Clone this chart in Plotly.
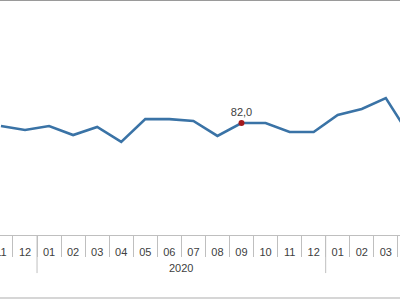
import plotly.graph_objects as go

years = ["2019"] * 4 + ["2020"] * 12 + ["2021"] * 8
months = ["09", "10", "11", "12",
          "01", "02", "03", "04", "05", "06", "07", "08", "09", "10", "11", "12",
          "01", "02", "03", "04", "05", "06", "07", "08"]
values = [None, None, 81.0, 79.7,
          81.0, 78.0, 80.7, 75.7, 83.3, 83.3, 82.7, 77.7, 82.0, 82.0, 79.0, 79.0,
          84.7, 86.7, 90.3, 77.7, None, None, None, None]
highlight_index = 12  # 2020-09

line_color = "#3a73a6"
text_color = "#404040"
grid_color = "#bfbfbf"
font_family = "Arial, Liberation Sans, sans-serif"

idx = list(range(len(months)))

fig = go.Figure()
fig.add_trace(go.Scatter(
    x=idx, y=values, mode="lines",
    line=dict(color=line_color, width=2.6), connectgaps=False,
    hoverinfo="skip", showlegend=False,
))
hv = values[highlight_index]
fig.add_trace(go.Scatter(
    x=[idx[highlight_index]], y=[hv],
    mode="markers+text",
    marker=dict(color="#a3191c", size=6),
    text=[f"{hv:.1f}".replace(".", ",")],
    textposition="top center",
    textfont=dict(family=font_family, size=11, color=text_color),
    showlegend=False, cliponaxis=False,
))

# year groups: centres and boundaries derived from the lists
groups = []
for i, y in enumerate(years):
    if not groups or groups[-1][0] != y:
        groups.append([y, i, i])
    else:
        groups[-1][2] = i

annotations = []
shapes = []
for g, (yr, a, b) in enumerate(groups):
    annotations.append(dict(
        x=(a + b) / 2, y=-0.14, xref="x", yref="paper", text=yr, showarrow=False,
        yanchor="middle", font=dict(family=font_family, size=11, color=text_color)))
    if g > 0:
        shapes.append(dict(type="line", xref="x", yref="paper", x0=a - 0.5, x1=a - 0.5,
                           y0=0, y1=-0.162, line=dict(color=grid_color, width=1)))

shapes += [
    dict(type="line", xref="paper", yref="paper", x0=0, x1=1, y0=1, y1=1,
         line=dict(color="#9a9a9a", width=2)),
    dict(type="line", xref="paper", yref="paper", x0=0, x1=1, y0=-0.268, y1=-0.268,
         line=dict(color="#c8c8c8", width=1.5)),
]

fig.update_layout(
    width=400, height=300,
    margin=dict(l=0, r=0, t=0, b=65, autoexpand=False),
    paper_bgcolor="white", plot_bgcolor="white",
    font=dict(family=font_family, size=11, color=text_color),
    xaxis=dict(
        range=[1.96, 18.59],
        automargin=False,
        tickmode="array", tickvals=idx, ticktext=months,
        ticklabeloverflow="allow",
        ticks="outside", ticklen=7, tickcolor="rgba(0,0,0,0)",
        minor=dict(tickvals=[i + 0.5 for i in idx[:-1]], ticks="outside",
                   ticklen=21, tickcolor=grid_color, tickwidth=1, showgrid=False),
        showline=True, linecolor=grid_color, linewidth=1,
        showgrid=False, zeroline=False,
        tickfont=dict(family=font_family, size=11, color=text_color),
    ),
    yaxis=dict(range=[44.67, 123], visible=False, showgrid=False, zeroline=False),
    annotations=annotations,
    shapes=shapes,
)

fig.write_html("out.html")
